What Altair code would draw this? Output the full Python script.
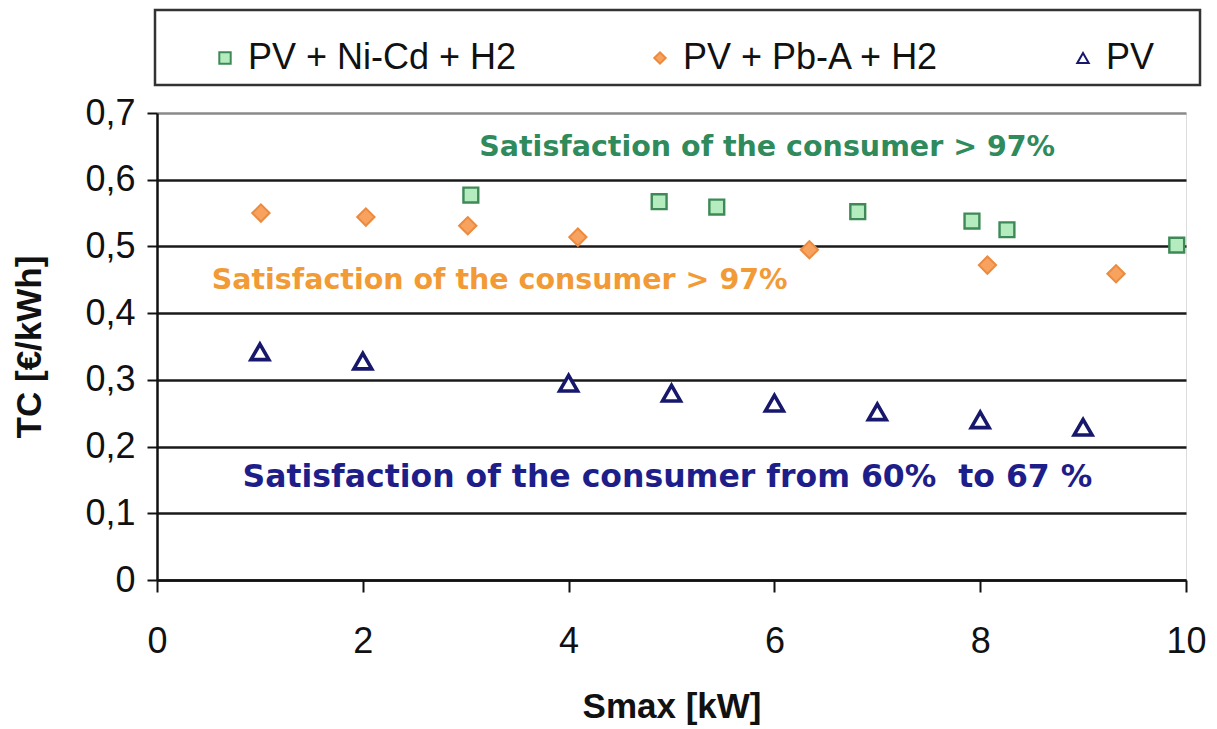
import altair as alt
import pandas as pd

# ---- data ----
series_names = ["PV + Ni-Cd + H2", "PV + Pb-A + H2", "PV"]

nicd_x = [3.05, 4.88, 5.44, 6.81, 7.92, 8.26, 9.91]
nicd_y = [0.577, 0.567, 0.559, 0.552, 0.538, 0.525, 0.502]

pba_x = [1.01, 2.03, 3.02, 4.09, 6.34, 8.07, 9.32]
pba_y = [0.550, 0.544, 0.531, 0.514, 0.495, 0.472, 0.459]

pv_x = [1, 2, 4, 5, 6, 7, 8, 9]
pv_y = [0.342, 0.328, 0.295, 0.280, 0.265, 0.252, 0.240, 0.229]

ann_text = [
    "Satisfaction of the consumer > 97%",
    "Satisfaction of the consumer > 97%",
    "Satisfaction of the consumer from 60%\u00a0\u00a0to 67 %",
]
ann_x = [5.93, 3.33, 4.96]
ann_y = [0.649, 0.450, 0.153]

x_ticks = [0, 2, 4, 6, 8, 10]
y_ticks = [0, 0.1, 0.2, 0.3, 0.4, 0.5, 0.6, 0.7]

# ---- tables ----
series_data = [(nicd_x, nicd_y), (pba_x, pba_y), (pv_x, pv_y)]
frames = [pd.DataFrame({"Smax": xs, "TC": ys, "series": name})
          for (xs, ys), name in zip(series_data, series_names)]
ann = pd.DataFrame({"x": ann_x, "y": ann_y, "text": ann_text})

W, H = 1029, 467

xscale = alt.Scale(domain=[0, 10], nice=False)
yscale = alt.Scale(domain=[0, 0.7], nice=False)

x_axis = alt.Axis(
    values=x_ticks, title="Smax [kW]", grid=False, format="d", labelFlush=False,
    labelFontSize=36, labelFont="Liberation Sans", labelColor="#111",
    labelPadding=32, tickSize=12, tickColor="#111", tickWidth=2,
    domainColor="#111", domainWidth=2.5,
    titleFontSize=35, titleFont="Liberation Sans", titleFontWeight="bold",
    titleColor="#111", titleY=126, titleX=W / 2, titleBaseline="middle",
)
y_axis = alt.Axis(
    values=y_ticks, title="TC [€/kWh]", labelFlush=False,
    labelExpr="datum.value == 0 ? '0' : replace(format(datum.value, '.1f'), '.', ',')",
    labelFontSize=36, labelFont="Liberation Sans", labelColor="#111",
    labelPadding=12, tickSize=10, tickColor="#111", tickWidth=2,
    domainColor="#111", domainWidth=2.5,
    grid=True,
    gridColor={"condition": {"test": "datum.value >= 0.7", "value": "#8a8a8a"}, "value": "#1a1a1a"},
    gridWidth=2.5,
    titleFontSize=35, titleFont="Liberation Sans", titleFontWeight="bold",
    titleColor="#111", titleX=-128, titleY=H / 2, titleAngle=270,
    titleBaseline="middle", titleAlign="center",
)

legend = alt.Legend(
    title=None, orient="none", legendX=50, legendY=-73, direction="horizontal",
    columns=3, columnPadding=125, labelFontSize=36, labelFont="Liberation Sans",
    labelColor="#111", labelOffset=5, symbolSize=130, symbolStrokeWidth=2,
    labelLimit=400, zindex=2,
)

shape_scale = alt.Scale(domain=series_names, range=["square", "diamond", "triangle-up"])
fill_scale = alt.Scale(domain=series_names, range=["#b4ecbf", "#f7a25e", "#ffffff"])
stroke_scale = alt.Scale(domain=series_names, range=["#3d8a57", "#ec8a3e", "#17176b"])

box = alt.Chart(pd.DataFrame({"k": [0]})).mark_rect(
    fillOpacity=0, stroke="#333", strokeWidth=2.5
).encode(x=alt.value(-2), x2=alt.value(1043), y=alt.value(-103), y2=alt.value(-28))

marker_size = [220, 300, 320]
marker_sw = [2.4, 2.0, 3.6]

point_layers = []
for i, df in enumerate(frames):
    point_layers.append(
        alt.Chart(df).mark_point(filled=True, opacity=1, fillOpacity=1,
                                 size=marker_size[i], strokeWidth=marker_sw[i]).encode(
            x=alt.X("Smax:Q", scale=xscale, axis=x_axis),
            y=alt.Y("TC:Q", scale=yscale, axis=y_axis),
            shape=alt.Shape("series:N", scale=shape_scale, legend=legend),
            fill=alt.Fill("series:N", scale=fill_scale, legend=legend),
            stroke=alt.Stroke("series:N", scale=stroke_scale, legend=legend),
        )
    )

text_colors = ["#2f8a5c", "#f29a35", "#1e1e8a"]
text_sizes = [28.5, 28.5, 31.5]
text_layers = []
for i in range(len(ann)):
    text_layers.append(
        alt.Chart(ann.iloc[[i]]).mark_text(
            font="DejaVu Sans", fontWeight="bold", fontSize=text_sizes[i],
            color=text_colors[i], baseline="middle", align="center"
        ).encode(
            x=alt.X("x:Q", scale=xscale),
            y=alt.Y("y:Q", scale=yscale),
            text="text:N",
        )
    )

chart = alt.layer(box, *point_layers, *text_layers).properties(
    width=W, height=H,
    autosize=alt.AutoSizeParams(type="none"),
    padding={"left": 149, "top": 105, "right": 21, "bottom": 148},
).configure_view(
    stroke="#8a8a8a", strokeWidth=2.5
).configure(background="white")

chart.save("out.html", embed_options={"renderer": "svg", "actions": False})
